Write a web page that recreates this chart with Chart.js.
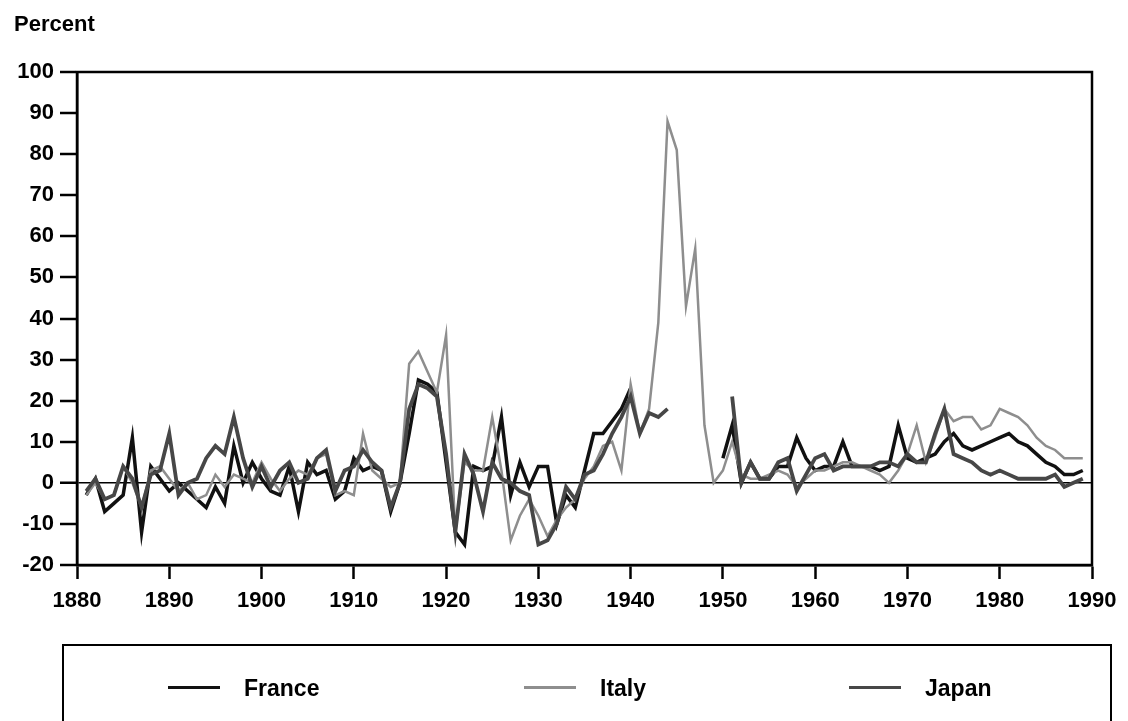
<!DOCTYPE html>
<html>
<head>
<meta charset="utf-8">
<script src="https://cdn.jsdelivr.net/npm/chart.js@4"></script>
<style>
  body { margin: 0; background: #fff; font-family: "Liberation Sans", Arial, sans-serif; }
  #wrap { position: relative; width: 1128px; height: 721px; overflow: hidden; }
  #ylabel { position: absolute; left: 14px; top: 11px; font-weight: bold; font-size: 22px; }
  #legend { position: absolute; left: 62px; top: 644px; width: 1050px; height: 120px; border: 2px solid #000; box-sizing: border-box; }
  .item { position: absolute; top: 29px; font-weight: bold; font-size: 23px; line-height: 26px; }
  .item span.line { position: absolute; top: 11px; width: 52px; height: 3px; }
</style>
</head>
<body>
<div id="wrap">
  <canvas id="c" width="1128" height="721"></canvas>
  <div id="ylabel">Percent</div>
  <div id="legend"></div>
</div>
<script>
const years = [];
for (let y = 1881; y <= 1989; y++) years.push(y);

const france = [
  -3, 1, -7, -5, -3, 11, -12, 4, 1, -2,        // 1881-1890
  0, -2, -4, -6, -1, -5, 9, 0, 5, 1,           // 1891-1900
  -2, -3, 4, -7, 5, 2, 3, -4, -2, 6,           // 1901-1910
  3, 4, 3, -7, 0, 12, 25, 24, 22, 5,           // 1911-1920
  -12, -15, 4, 3, 4, 16, -3, 5, -1, 4,         // 1921-1930
  4, -10, -3, -6, 3, 12, 12, 15, 18, 23,       // 1931-1940
  null, null, null, null, null, null, null, null, null, 6, // 1941-1950
  14, 0, 5, 1, 1, 4, 4, 11, 6, 3,              // 1951-1960
  4, 4, 10, 4, 4, 4, 3, 4, 14, 6,              // 1961-1970
  5, 6, 7, 10, 12, 9, 8, 9, 10, 11,            // 1971-1980
  12, 10, 9, 7, 5, 4, 2, 2, 3                  // 1981-1989
];
const italy = [
  -3, 0, -4, -3, 4, 0, -6, 3, 4, 1,
  -2, 0, -4, -3, 2, -1, 2, 1, 0, 5,
  1, -2, 1, 3, 2, 6, 7, -3, -2, -3,
  12, 3, 1, -1, 0, 29, 32, 27, 22, 36,
  -12, 5, 3, 3, 16, 3, -14, -8, -4, -8,
  -13, -9, -6, -4, 1, 4, 9, 10, 3, 24,
  12, 18, 39, 88, 81, 43, 57, 14, 0, 3,
  10, 2, 1, 1, 2, 3, 2, -1, 1, 3,
  3, 4, 5, 5, 4, 3, 2, 0, 3, 7,
  14, 5, 11, 18, 15, 16, 16, 13, 14, 18,
  17, 16, 14, 11, 9, 8, 6, 6, 6
];
const japan = [
  -2, 1, -4, -3, 4, 1, -6, 2, 3, 12,
  -3, 0, 1, 6, 9, 7, 16, 6, -1, 4,
  -1, 3, 5, 0, 1, 6, 8, -2, 3, 4,
  8, 5, 3, -6, 0, 18, 24, 23, 21, 7,
  -12, 7, 2, -7, 5, 1, 0, -2, -3, -15,
  -14, -10, -1, -4, 2, 3, 7, 12, 16, 21,
  12, 17, 16, 18, null, null, null, null, null, null,
  21, 0, 5, 1, 1, 5, 6, -2, 2, 6,
  7, 3, 4, 4, 4, 4, 5, 5, 4, 7,
  5, 5, 12, 18, 7, 6, 5, 3, 2, 3,
  2, 1, 1, 1, 1, 2, -1, 0, 1
];

const xTicks = [1880, 1890, 1900, 1910, 1920, 1930, 1940, 1950, 1960, 1970, 1980, 1990];
const yTicks = [-20, -10, 0, 10, 20, 30, 40, 50, 60, 70, 80, 90, 100];

const seriesNames = ['France', 'Italy', 'Japan'];
const seriesColors = ['#111111', '#8e8e8e', '#474747'];
const seriesWidths = [3.5, 2.5, 3.8];

const toPoints = vals => years.map((yr, i) => ({ x: yr, y: vals[i] }));
const allValues = [france, italy, japan];

const frame = {
  id: 'frame',
  afterDatasetsDraw(chart) {
    const { ctx, chartArea: a } = chart;
    ctx.save();
    ctx.strokeStyle = '#000';
    ctx.lineWidth = 2.5;
    ctx.strokeRect(a.left, a.top, a.right - a.left, a.bottom - a.top);
    ctx.restore();
  }
};

const tickFont = { family: 'Liberation Sans', weight: 'bold', size: 22 };

new Chart(document.getElementById('c'), {
  type: 'line',
  data: {
    datasets: allValues.map((vals, i) => ({
      label: seriesNames[i],
      data: toPoints(vals),
      borderColor: seriesColors[i],
      borderWidth: seriesWidths[i],
      pointRadius: 0,
      tension: 0,
      spanGaps: false,
      borderJoinStyle: 'miter'
    })).reverse()
  },
  options: {
    responsive: false,
    animation: false,
    layout: { padding: { left: 0, right: 36, top: 72, bottom: 96 } },
    plugins: { legend: { display: false }, tooltip: { enabled: false } },
    scales: {
      x: {
        type: 'linear',
        min: 1880,
        max: 1990,
        afterBuildTicks: s => { s.ticks = xTicks.map(v => ({ value: v })); },
        afterFit: s => { s.height = 60; },
        ticks: {
          callback: v => String(v),
          color: '#000',
          padding: 9,
          maxRotation: 0,
          font: tickFont
        },
        grid: { drawOnChartArea: false, drawTicks: true, tickLength: 14, tickColor: '#000', tickWidth: 2.5 },
        border: { display: true, color: '#000', width: 2.5 }
      },
      y: {
        min: -20,
        max: 100,
        afterBuildTicks: s => { s.ticks = yTicks.map(v => ({ value: v })); },
        afterFit: s => { s.width = 77; },
        ticks: {
          color: '#000',
          padding: 6,
          font: tickFont
        },
        grid: {
          drawOnChartArea: true,
          drawTicks: true,
          tickLength: 17,
          tickColor: '#000',
          tickWidth: 2.5,
          color: c => (c.tick && c.tick.value === 0) ? '#000' : 'rgba(0,0,0,0)',
          lineWidth: c => (c.tick && c.tick.value === 0) ? 1.5 : 0
        },
        border: { display: true, color: '#000', width: 2.5 }
      }
    }
  },
  plugins: [frame]
});

// legend box below the chart
const legendPos = [[104, 180], [460, 536], [785, 861]];
const legend = document.getElementById('legend');
seriesNames.forEach((name, i) => {
  const line = document.createElement('div');
  line.className = 'item';
  line.style.left = legendPos[i][0] + 'px';
  line.style.width = '52px';
  line.innerHTML = '<span class="line" style="background:' + seriesColors[i] + '"></span>';
  legend.appendChild(line);
  const txt = document.createElement('div');
  txt.className = 'item';
  txt.style.left = legendPos[i][1] + 'px';
  txt.textContent = name;
  legend.appendChild(txt);
});
</script>
</body>
</html>
